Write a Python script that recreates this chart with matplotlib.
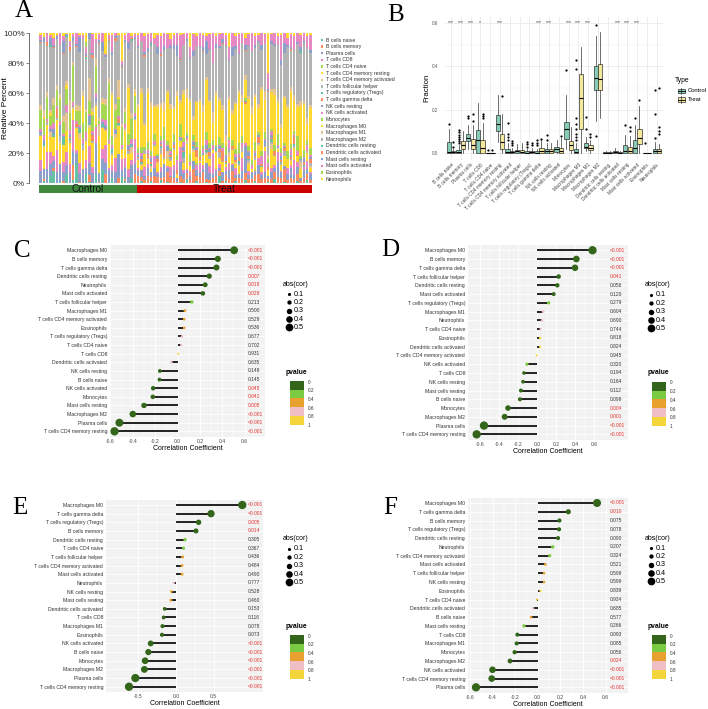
import numpy as np
import matplotlib
matplotlib.use("Agg")
import matplotlib.pyplot as plt
from matplotlib.patches import Rectangle

plt.rcParams['font.family'] = ['Liberation Sans', 'DejaVu Sans']
plt.rcParams['axes.unicode_minus'] = False

W, H = 708, 709

# ---------------- data ----------------
cell_types = ["B cells naive", "B cells memory", "Plasma cells", "T cells CD8", "T cells CD4 naive",
              "T cells CD4 memory resting", "T cells CD4 memory activated", "T cells follicular helper",
              "T cells regulatory (Tregs)", "T cells gamma delta", "NK cells resting", "NK cells activated",
              "Monocytes", "Macrophages M0", "Macrophages M1", "Macrophages M2", "Dendritic cells resting",
              "Dendritic cells activated", "Mast cells resting", "Mast cells activated", "Eosinophils", "Neutrophils"]
palette_set2 = ["#66C2A5", "#FC8D62", "#8DA0CB", "#E78AC3", "#A6D854", "#FFD92F", "#E5C494", "#B3B3B3"]
groups = ["Control", "Treat"]

# Panel A: per-sample composition (percent), control samples
C_BN = [0,1,0,5,8,0,1,0,6,0, 2,13,0,0,7,1,0,4,0,9, 0,1,5,0,0,6,1,0,3,0]
C_BM = [0,1,0,0,2,0,0,1,0,0, 11,0,1,0,0,5,0,0,1,0, 8,0,0,0,3,0,1,0,0,6]
C_PC = [7,6,9,8,5,7,13,6,8,7, 10,6,7,9,5,8,7,17,6,7, 9,8,6,7,16,8,7,6,9,7]
C_CD8 = [6,0,11,8,3,14,0,7,10,5, 23,2,9,0,6,12,4,8,0,7, 15,1,6,9,0,11,5,7,3,18]
C_CD4N = [0,0,0,0,0,0,0,0,0,0, 0,0,0,0,0,0,0,1,0,0, 0,0,0,0,0,0,0,0,0,0]
C_CD4MR = [14,12,17,10,13,19,15,11,16,13, 8,14,20,12,15,13,17,10,27,14, 12,16,9,13,18,11,15,14,5,13]
C_CD4MA = [0,1,0,3,0,0,2,0,14,0, 1,0,5,0,0,2,0,0,8,0, 1,0,0,3,0,0,1,0,4,0]
C_TFH = [1,0,2,1,0,1,4,0,1,2, 0,1,0,3,1,0,1,2,0,1, 0,1,2,0,1,0,1,3,0,1]
C_TREG = [0,1,0,0,2,0,0,5,0,1, 0,0,3,0,0,1,0,0,0,2, 0,0,4,0,1,0,0,0,1,0]
C_GD = [0,0,1,0,0,6,0,0,0,1, 0,2,0,0,0,0,4,0,0,0, 1,0,0,0,3,0,0,1,0,0]
C_NKR = [1,2,0,1,3,0,8,1,0,2, 1,0,2,1,0,5,1,2,0,1, 3,0,1,2,0,1,0,4,1,2]
C_NKA = [2,3,1,2,4,2,3,1,5,2, 3,2,1,3,6,2,2,3,1,2, 4,2,3,1,2,3,2,1,3,2]
C_MONO = [11,9,14,7,12,10,16,8,13,11, 27,6,12,10,15,9,11,14,2,10, 13,38,8,12,11,19,7,10,14,12]
C_M0 = [0,1,0,2,0,0,1,0,3,0, 0,1,0,17,0,0,2,0,0,1, 0,0,39,0,1,0,0,43,0,2]
C_M1 = [3,4,3,2,5,3,3,4,3,8, 2,3,4,3,3,16,3,4,2,3, 5,3,3,4,11,3,2,4,3,3]
C_M2 = [35,38,30,42,33,29,36,40,34,31, 15,37,45,33,39,28,35,8,54,32, 36,24,34,41,30,59,37,33,48,35]
C_DCR = [0,0,0,1,0,0,0,0,1,0, 0,0,0,0,1,0,0,0,0,0, 0,1,0,0,0,0,0,0,1,0]
C_DCA = [1,0,2,0,1,0,0,1,0,2, 0,1,0,0,1,0,2,0,1,0, 0,1,0,2,0,1,0,0,1,0]
C_MCR = [1,3,0,5,1,2,0,8,1,0, 3,1,13,0,2,4,1,0,2,6, 1,0,3,1,0,2,1,7,0,1]
C_MCA = [3,0,6,2,5,1,9,3,0,4, 2,7,1,3,5,0,13,2,4,6, 1,3,16,2,0,5,3,8,1,2]
C_EOS = [0,0,0,0,0,0,0,0,0,0, 0,0,0,0,4,0,0,0,0,0, 0,0,0,0,0,0,0,0,0,0]
C_NEU = [1,2,0,1,3,1,0,2,1,5, 1,0,2,1,7,0,1,3,1,0, 18,1,2,0,1,29,1,0,2,1]

# treat samples
T_BN = [0,1,0,0,1,0,0,2,0,1, 0,0,0,1,0,3,0,0,1,0, 0,1,0,0,0,5,0,1,0,0, 1,0,0,2,0,0,1,0,0,0, 1,0,3,0,0,1,0,0,0,1, 0,0,2,0]
T_BM = [4,3,2,6,3,5,4,2,3,7, 4,3,1,5,3,4,2,10,3,4, 6,3,2,4,5,3,1,4,3,8, 2,4,3,5,3,2,4,6,3,4, 2,3,5,4,3,9,2,4,3,5, 1,3,4,2]
T_PC = [3,4,2,6,3,5,2,4,7,3, 1,5,3,13,4,2,3,6,4,3, 2,15,5,3,4,2,6,3,8,4, 2,3,5,18,3,4,2,6,3,4, 2,5,3,10,4,2,3,7,3,4, 2,5,3,4]
T_CD8 = [2,0,5,3,0,8,1,4,0,2, 6,3,0,14,2,1,4,0,3,7, 2,0,5,17,1,3,0,2,6,1, 4,0,9,2,3,0,1,5,2,16, 0,3,2,6,1,0,4,2,11,3, 0,2,5,1]
T_CD4N = [0,0,0,0,0,0,0,0,0,0, 0,0,0,0,0,0,0,0,1,0, 0,0,0,0,0,0,0,0,0,0, 0,0,0,0,0,0,1,0,0,0, 0,0,0,0,0,0,0,0,0,0, 0,0,0,0]
T_CD4MR = [5,3,8,4,2,7,6,10,3,5, 4,9,2,6,5,18,3,7,4,1, 6,8,5,3,12,4,6,2,5,9, 3,7,4,26,5,2,6,8,4,3, 5,14,6,2,4,7,5,3,9,4, 6,0,5,3]
T_CD4MA = [0,1,0,0,2,0,1,0,0,6, 0,0,1,0,0,3,0,1,0,0, 0,2,0,0,1,0,0,0,4,0, 1,0,0,0,2,0,0,1,0,0, 0,3,0,1,0,0,0,1,0,0, 5,0,0,1]
T_TFH = [1,0,2,1,0,1,0,4,1,0, 2,1,0,1,3,0,1,2,0,1, 0,1,2,0,1,4,1,0,2,1, 0,1,3,0,1,0,2,1,0,1, 0,2,1,0,1,3,0,1,2,0, 1,0,1,2]
T_TREG = [0,1,0,0,1,0,0,2,0,0, 1,0,0,0,4,0,0,1,0,0, 0,1,0,0,2,0,0,1,0,0, 0,3,0,0,1,0,0,0,1,0, 0,2,0,0,1,0,0,0,1,0, 0,1,0,0]
T_GD = [1,2,0,3,1,0,2,1,5,0, 1,2,3,0,1,2,0,1,4,2, 0,1,3,1,0,2,6,1,0,2, 1,3,0,1,2,0,1,4,1,0, 2,1,3,0,1,2,0,1,5,1, 0,2,1,3]
T_NKR = [1,2,0,1,3,0,2,1,0,4, 1,2,0,1,3,1,0,2,1,0, 1,4,2,0,1,2,0,3,1,0, 2,1,0,1,3,0,2,1,0,4, 1,2,0,1,3,1,0,2,1,0, 1,2,0,1]
T_NKA = [1,2,0,3,1,2,0,1,4,1, 2,0,7,1,3,0,2,1,1,0, 2,5,1,3,0,1,2,1,8,0, 2,1,3,0,1,2,1,0,6,1, 2,3,0,1,2,1,0,4,1,2, 0,1,3,1]
T_MONO = [3,4,2,6,3,5,1,4,7,3, 2,5,4,12,3,2,6,4,3,5, 2,8,3,4,1,5,3,6,2,4, 3,9,5,2,4,3,6,2,4,5, 3,1,4,7,3,2,5,4,3,10, 2,4,3,5]
T_M0 = [25,34,12,40,28,18,31,22,9,36, 27,15,44,20,30,26,38,11,24,33, 19,49,29,14,37,25,21,3,32,17, 28,41,23,12,35,26,30,16,46,24, 0,27,36,20,13,31,25,39,22,18, 33,28,10,26]
T_M1 = [2,3,2,4,3,1,2,3,5,2, 3,2,4,2,3,6,2,3,1,2, 4,3,2,9,3,2,3,4,2,3, 1,2,5,3,2,4,2,3,2,7, 3,2,4,2,3,1,2,3,5,2, 3,2,4,2]
T_M2 = [34,30,38,29,36,41,33,35,28,32, 39,34,26,37,31,35,29,44,33,36, 30,22,35,40,32,34,38,56,31,36, 33,29,35,16,37,32,30,41,28,35, 47,33,31,36,39,30,34,27,33,38, 32,35,45,34]
T_DCR = [0,0,0,0,1,0,0,0,0,0, 0,0,0,0,0,0,0,0,0,0, 0,0,0,0,0,0,0,1,0,0, 0,0,0,0,0,0,0,0,0,0, 0,0,0,0,0,0,0,0,0,0, 1,0,0,0]
T_DCA = [0,0,1,0,0,0,0,1,0,0, 0,0,0,1,0,0,0,0,0,0, 1,0,0,0,0,0,1,0,0,0, 0,0,0,1,0,0,0,0,0,0, 1,0,0,0,0,0,0,1,0,0, 0,0,0,0]
T_MCR = [1,0,2,3,1,0,5,1,2,0, 1,3,8,1,0,2,1,4,0,1, 2,12,1,0,3,1,2,0,1,6, 2,1,0,3,1,0,2,1,4,0, 1,2,1,0,3,7,1,2,0,1, 3,1,0,2]
T_MCA = [7,5,9,11,6,4,8,13,7,10, 5,6,9,21,7,4,8,12,6,9, 7,5,10,24,6,8,4,7,11,9, 6,15,7,5,8,10,6,4,9,7, 12,5,8,6,17,7,4,9,11,6, 8,5,7,10]
T_EOS = [0,0,0,0,0,0,0,0,0,0, 0,0,0,0,0,0,0,0,0,0, 0,0,0,0,0,0,0,0,0,0, 0,0,0,0,0,0,0,0,0,0, 0,0,0,0,0,0,0,0,0,0, 0,0,0,0]
T_NEU = [1,0,2,1,0,3,1,2,0,1, 4,1,0,2,1,0,10,1,2,0, 1,3,1,0,2,1,0,1,12,0, 2,1,0,3,1,0,2,1,0,1, 30,1,0,2,1,0,3,1,2,0, 1,0,2,1]

ctrl_lists = [C_BN, C_BM, C_PC, C_CD8, C_CD4N, C_CD4MR, C_CD4MA, C_TFH, C_TREG, C_GD, C_NKR, C_NKA,
              C_MONO, C_M0, C_M1, C_M2, C_DCR, C_DCA, C_MCR, C_MCA, C_EOS, C_NEU]
treat_lists = [T_BN, T_BM, T_PC, T_CD8, T_CD4N, T_CD4MR, T_CD4MA, T_TFH, T_TREG, T_GD, T_NKR, T_NKA,
               T_MONO, T_M0, T_M1, T_M2, T_DCR, T_DCA, T_MCR, T_MCA, T_EOS, T_NEU]

# Panel B: box statistics (q1, median, q3, whisker low, whisker high) and outliers
ctrl_q1 = [0, 0, 0.055, 0, 0, 0.10, 0, 0, 0, 0, 0, 0.005, 0.065, 0, 0.025, 0.29, 0, 0, 0, 0, 0, 0]
ctrl_med = [0.005, 0.005, 0.07, 0.06, 0, 0.135, 0.005, 0.01, 0, 0, 0.01, 0.02, 0.11, 0.005, 0.03, 0.345, 0, 0.005, 0.01, 0.025, 0, 0.01]
ctrl_q3 = [0.05, 0.015, 0.09, 0.105, 0, 0.175, 0.02, 0.015, 0.01, 0.01, 0.02, 0.03, 0.145, 0.02, 0.045, 0.40, 0.005, 0.01, 0.035, 0.06, 0, 0.02]
ctrl_lo = [0, 0, 0.02, 0, 0, 0.05, 0, 0, 0, 0, 0, 0, 0.02, 0, 0.01, 0.15, 0, 0, 0, 0, 0, 0]
ctrl_hi = [0.11, 0.035, 0.13, 0.23, 0, 0.27, 0.045, 0.04, 0.02, 0.02, 0.045, 0.06, 0.27, 0.045, 0.075, 0.54, 0.01, 0.025, 0.085, 0.13, 0, 0.05]
ctrl_out = [[0.135], [0.045, 0.055, 0.065, 0.075, 0.085, 0.095, 0.105], [0.16, 0.17], [], [0.015], [],
            [0.06, 0.075, 0.09, 0.14], [], [0.03, 0.04, 0.05], [0.035, 0.045, 0.06], [0.06, 0.085], [],
            [0.385], [0.06, 0.075, 0.09, 0.11, 0.135, 0.16, 0.39, 0.43], [0.11, 0.165], [0.08, 0.59],
            [], [], [0.13], [0.16], [0.045], [0.07, 0.18, 0.29]]
treat_q1 = [0, 0.02, 0.02, 0, 0, 0.02, 0, 0, 0, 0, 0, 0, 0.015, 0.11, 0.015, 0.29, 0, 0, 0, 0.04, 0, 0]
treat_med = [0.005, 0.035, 0.035, 0.025, 0, 0.05, 0.003, 0.005, 0.005, 0.01, 0.01, 0.01, 0.035, 0.255, 0.025, 0.34, 0, 0, 0.01, 0.07, 0, 0.01]
treat_q3 = [0.01, 0.055, 0.065, 0.06, 0, 0.09, 0.01, 0.015, 0.01, 0.025, 0.02, 0.025, 0.055, 0.365, 0.035, 0.41, 0.005, 0.005, 0.03, 0.11, 0, 0.02]
treat_lo = [0, 0, 0, 0, 0, 0, 0, 0, 0, 0, 0, 0, 0, 0, 0, 0.16, 0, 0, 0, 0, 0, 0]
treat_hi = [0.02, 0.10, 0.13, 0.14, 0, 0.18, 0.025, 0.045, 0.025, 0.06, 0.045, 0.07, 0.12, 0.49, 0.06, 0.56, 0.01, 0.01, 0.08, 0.215, 0, 0.04]
treat_out = [[0.03, 0.05], [], [0.15, 0.18], [0.16, 0.17, 0.18], [0.015], [0.265], [0.035, 0.045, 0.055],
             [], [0.035, 0.045], [0.065], [], [0.08], [], [], [0.075, 0.09], [], [], [], [0.10, 0.12],
             [0.245], [], [0.09, 0.10, 0.12, 0.30]]
signif = ["***", "***", "***", "*", "", "***", "", "", "", "***", "***", "", "***", "***", "***", "",
          "", "***", "***", "***", "", ""]

# Panels C-F: correlation lollipops
C_names = ["Macrophages M0", "B cells memory", "T cells gamma delta", "Dendritic cells resting", "Neutrophils",
           "Mast cells activated", "T cells follicular helper", "Macrophages M1", "T cells CD4 memory activated",
           "Eosinophils", "T cells regulatory (Tregs)", "T cells CD4 naive", "T cells CD8", "Dendritic cells activated",
           "NK cells resting", "B cells naive", "NK cells activated", "Monocytes", "Mast cells resting",
           "Macrophages M2", "Plasma cells", "T cells CD4 memory resting"]
C_cor = [0.507, 0.361, 0.349, 0.284, 0.248, 0.227, 0.128, 0.066, 0.06, 0.06, 0.039, 0.033, 0.006, -0.054,
         -0.158, -0.161, -0.218, -0.221, -0.30, -0.40, -0.52, -0.564]
C_p = ["<0.001", "<0.001", "<0.001", "0.007", "0.018", "0.029", "0.213", "0.500", "0.529", "0.536", "0.677",
       "0.702", "0.931", "0.635", "0.148", "0.145", "0.045", "0.041", "0.005", "<0.001", "<0.001", "<0.001"]

D_names = ["Macrophages M0", "B cells memory", "T cells gamma delta", "T cells follicular helper",
           "Dendritic cells resting", "Mast cells activated", "T cells regulatory (Tregs)", "Macrophages M1",
           "Neutrophils", "T cells CD4 naive", "Eosinophils", "Dendritic cells activated",
           "T cells CD4 memory activated", "NK cells activated", "T cells CD8", "NK cells resting",
           "Mast cells resting", "B cells naive", "Monocytes", "Macrophages M2", "Plasma cells",
           "T cells CD4 memory resting"]
D_cor = [0.58, 0.41, 0.396, 0.224, 0.21, 0.172, 0.119, 0.06, 0.049, 0.035, 0.028, 0.028, -0.007, -0.109,
         -0.14, -0.15, -0.172, -0.182, -0.308, -0.343, -0.56, -0.637]
D_p = ["<0.001", "<0.001", "<0.001", "0.041", "0.056", "0.120", "0.279", "0.604", "0.690", "0.744", "0.818",
       "0.824", "0.945", "0.320", "0.194", "0.164", "0.112", "0.099", "0.004", "0.001", "<0.001", "<0.001"]

E_names = ["Macrophages M0", "T cells gamma delta", "T cells regulatory (Tregs)", "B cells memory",
           "Dendritic cells resting", "T cells CD4 naive", "T cells follicular helper",
           "T cells CD4 memory activated", "Mast cells activated", "Neutrophils", "NK cells resting",
           "Mast cells resting", "Dendritic cells activated", "T cells CD8", "Macrophages M1", "Eosinophils",
           "NK cells activated", "B cells naive", "Monocytes", "Macrophages M2", "Plasma cells",
           "T cells CD4 memory resting"]
E_cor = [0.88, 0.465, 0.30, 0.265, 0.12, 0.10, 0.088, 0.08, 0.08, -0.03, -0.062, -0.07, -0.15, -0.164, -0.18,
         -0.186, -0.336, -0.367, -0.41, -0.42, -0.54, -0.624]
E_p = ["<0.001", "<0.001", "0.005", "0.014", "0.305", "0.367", "0.436", "0.484", "0.490", "0.777", "0.528",
       "0.460", "0.153", "0.116", "0.078", "0.073", "<0.001", "<0.001", "<0.001", "<0.001", "<0.001", "<0.001"]

F_names = ["Macrophages M0", "T cells gamma delta", "B cells memory", "T cells regulatory (Tregs)",
           "Dendritic cells resting", "Neutrophils", "T cells CD4 memory activated", "Mast cells activated",
           "T cells follicular helper", "NK cells resting", "Eosinophils", "T cells CD4 naive",
           "Dendritic cells activated", "B cells naive", "Mast cells resting", "T cells CD8", "Macrophages M1",
           "Monocytes", "Macrophages M2", "NK cells activated", "T cells CD4 memory resting", "Plasma cells"]
F_cor = [0.525, 0.271, 0.192, 0.189, 0.18, 0.133, 0.106, 0.068, 0.056, 0.056, 0.024, -0.009, -0.041, -0.059,
         -0.121, -0.18, -0.186, -0.204, -0.245, -0.40, -0.407, -0.546]
F_p = ["<0.001", "0.010", "0.075", "0.078", "0.090", "0.207", "0.324", "0.521", "0.599", "0.599", "0.839",
       "0.934", "0.685", "0.577", "0.266", "0.093", "0.085", "0.056", "0.024", "<0.001", "<0.001", "<0.001"]

pbin_edges = [0, 0.2, 0.4, 0.6, 0.8, 1]
pbin_colors = ["#33661A", "#7BCB42", "#E8A12E", "#F0BFC6", "#F4D63A"]
size_breaks = [0.1, 0.2, 0.3, 0.4, 0.5]

# ---------------- figure ----------------
fig = plt.figure(figsize=(W / 100, H / 100), dpi=100)


def axpx(x0, y0, x1, y1, **kw):
    return fig.add_axes([x0 / W, 1 - y1 / H, (x1 - x0) / W, (y1 - y0) / H], **kw)


ov = axpx(0, 0, W, H)
ov.set_xlim(0, W)
ov.set_ylim(H, 0)
ov.axis('off')
ov.set_zorder(10)
ov.patch.set_visible(False)

SERIF = ['Liberation Serif', 'DejaVu Serif']
for lab, (lx, ly) in {"A": (24, 11), "B": (396, 15), "C": (22, 251), "D": (390, 250),
                      "E": (20, 508), "F": (390, 508)}.items():
    ov.text(lx, ly, lab, fontsize=18, family=SERIF, ha='center', va='center')

# ---------- Panel A ----------
comp = np.array([c + t for c, t in zip(ctrl_lists, treat_lists)], dtype=float)
comp = comp / comp.sum(axis=0)
N = comp.shape[1]
n_ctrl = len(C_BN)
axA = axpx(29, 33, 322, 183)
ppu = (312 - 39) / N
e = 10 / ppu
xs = np.arange(N)
bottom = np.zeros(N)
for k in range(len(cell_types)):
    axA.bar(xs, comp[k], bottom=bottom, width=0.82, color=palette_set2[k % 8], lw=0)
    bottom += comp[k]
axA.set_xlim(-0.5 - e, N - 0.5 + e)
axA.set_ylim(0, 1)
axA.set_yticks([0, 0.2, 0.4, 0.6, 0.8, 1.0])
axA.set_yticklabels(["0%", "20%", "40%", "60%", "80%", "100%"])
axA.set_xticks([])
for s in ['top', 'right', 'bottom']:
    axA.spines[s].set_visible(False)
axA.spines['left'].set_color('#555555')
axA.spines['left'].set_linewidth(0.6)
axA.tick_params(axis='y', labelsize=6, length=2, width=0.5, color='#555555', pad=1, labelcolor='#333333')
ov.text(5.5, 108, "Relative Percent", fontsize=6, rotation=90, ha='center', va='center')

axG = axpx(39, 185, 312, 193)
gsize = [n_ctrl, N - n_ctrl]
gleft = [0, n_ctrl]
axG.barh([0, 0], gsize, left=gleft, height=1, color=["#408A40", "#CC0000"], lw=0)
for g, l, s in zip(groups, gleft, gsize):
    axG.text(l + s / 2, 0, g, ha='center', va='center', fontsize=7.2, color='#111111')
axG.set_xlim(0, N)
axG.set_ylim(-0.5, 0.5)
axG.axis('off')

for k, name in enumerate(cell_types):
    y = 40 + k * 6.62
    ov.add_patch(Rectangle((320.6, y - 1.2), 2.4, 2.4, color=palette_set2[k % 8], lw=0))
    ov.text(326, y, name, fontsize=3.7, va='center', ha='left', color='#333333')

# ---------- Panel B ----------
axB = axpx(445.1, 16.5, 662.7, 159.5)
axB.set_xlim(-0.6, len(cell_types) - 1 + 0.6)
axB.set_ylim(-0.03, 0.63)
pos = np.arange(len(cell_types))
common = dict(widths=0.43, patch_artist=True, showcaps=False,
              medianprops=dict(color='black', lw=0.8),
              whiskerprops=dict(color='#333333', lw=0.5),
              flierprops=dict(marker='o', markersize=1.6, markerfacecolor='black', markeredgecolor='none'))
col_ctrl, col_treat = "#86CDB7", "#F4E89A"
for q1s, meds, q3s, los, his, outs, off, col in [
        (ctrl_q1, ctrl_med, ctrl_q3, ctrl_lo, ctrl_hi, ctrl_out, -0.225, col_ctrl),
        (treat_q1, treat_med, treat_q3, treat_lo, treat_hi, treat_out, 0.225, col_treat)]:
    stats = [dict(q1=a, med=b, q3=c, whislo=d, whishi=f, fliers=g)
             for a, b, c, d, f, g in zip(q1s, meds, q3s, los, his, outs)]
    axB.bxp(stats, positions=pos + off, boxprops=dict(facecolor=col, edgecolor='#333333', lw=0.5),
            manage_ticks=False, **common)
for i, s in enumerate(signif):
    if s:
        axB.text(i, 0.6, s, ha='center', va='center', fontsize=3.6, color='#444444')
axB.set_xticks(pos)
axB.set_xticklabels(cell_types, rotation=45, ha='right', va='top', rotation_mode='anchor', fontsize=3.4,
                    color='#444444')
axB.set_yticks([0, 0.2, 0.4, 0.6])
axB.set_yticklabels(["0.0", "0.2", "0.4", "0.6"], fontsize=3.3, color='#555555')
axB.set_yticks([0.1, 0.3, 0.5], minor=True)
axB.tick_params(axis='both', which='both', length=0)
axB.tick_params(axis='y', pad=5)
axB.tick_params(axis='x', pad=2)
axB.grid(True, which='major', color='#E6E6E6', lw=0.5)
axB.grid(True, which='minor', axis='y', color='#F0F0F0', lw=0.35)
axB.set_axisbelow(True)
for s in axB.spines.values():
    s.set_visible(False)
axB.set_ylabel("Fraction", fontsize=5.6, labelpad=1)

ov.text(675, 80, "Type", fontsize=4.9, va='center', ha='left')
for j, (g, col) in enumerate(zip(groups, [col_ctrl, col_treat])):
    yk = 91 + j * 8.5
    ov.plot([681, 681], [yk - 3.4, yk + 3.4], color='#333333', lw=0.5)
    ov.add_patch(Rectangle((677.5, yk - 2.2), 7, 4.4, facecolor=col, edgecolor='#333333', lw=0.5))
    ov.plot([677.5, 684.5], [yk, yk], color='black', lw=0.6)
    ov.text(688, yk, g, fontsize=4.2, va='center', ha='left')


# ---------- Panels C-F ----------
def pcolor(pv):
    for k in range(5):
        if pv < pbin_edges[k + 1] or k == 4:
            return pbin_colors[k]


def lollipop(box, names, cors, pstr, zero_px, ppx, ticks, tick_labels, ptext_x, leg_x, size_y, pv_y):
    x0, y0, x1, y1 = box
    ax = axpx(x0, y0, x1, y1)
    ax.set_facecolor('#F2F2F2')
    n = len(names)
    ys = np.arange(n)[::-1]
    ax.set_xlim((x0 - zero_px) / ppx, (x1 - zero_px) / ppx)
    ax.set_ylim(-0.6, n - 1 + 0.6)
    cors = np.array(cors)
    pv = [float(s.lstrip('<')) for s in pstr]
    ax.hlines(ys, 0, cors, color='#111111', lw=1.3, zorder=2)
    diam = 2 + 11.5 * np.minimum(np.abs(cors), 0.55)
    ax.scatter(cors, ys, s=(diam * 0.72) ** 2, c=[pcolor(p) for p in pv], lw=0, zorder=3)
    for y, s, p in zip(ys, pstr, pv):
        ax.text(ptext_x, y, s, fontsize=3.5, va='center', ha='left',
                color='#E0302C' if p < 0.05 else '#333333')
    ax.set_yticks(ys)
    ax.set_yticklabels(names, fontsize=3.7, color='#333333')
    ax.set_xticks(ticks)
    ax.set_xticklabels(tick_labels, fontsize=3.6, color='#444444')
    minor = [(a + b) / 2 for a, b in zip(ticks[:-1], ticks[1:])]
    ax.set_xticks(minor, minor=True)
    ax.tick_params(axis='both', which='both', length=0)
    ax.tick_params(axis='y', pad=2)
    ax.tick_params(axis='x', pad=1.5)
    ax.grid(True, which='major', color='white', lw=0.6)
    ax.grid(True, which='minor', axis='x', color='white', lw=0.35)
    ax.set_axisbelow(True)
    for s in ax.spines.values():
        s.set_visible(False)
    ax.set_xlabel("Correlation Coefficient", fontsize=5, labelpad=1)
    # size legend
    ov.text(leg_x, size_y - 10, "abs(cor)", fontsize=5, va='center', ha='left')
    for k, b in enumerate(size_breaks):
        yy = size_y + k * 8.35
        d = 2 + 11.5 * b
        ov.scatter([leg_x + 6], [yy], s=(d * 0.72) ** 2, color='black', lw=0)
        ov.text(leg_x + 11, yy, f"{b:.1f}", fontsize=5.2, va='center', ha='left')
    # pvalue legend
    ov.text(leg_x + 3, pv_y, "pvalue", fontsize=4.9, fontweight='bold', va='center', ha='left')
    bh = 8.7
    top = pv_y + 9
    for k in range(5):
        ov.add_patch(Rectangle((leg_x + 7, top + k * bh), 14, bh, color=pbin_colors[k], lw=0))
    for k, ed in enumerate(pbin_edges):
        ov.text(leg_x + 25, top + k * bh + 1, f"{ed:g}", fontsize=3.4, va='center', ha='left', color='#333333')


ticks6 = [-0.6, -0.4, -0.2, 0.0, 0.2, 0.4, 0.6]
lab6 = [f"{t:.1f}" for t in ticks6]
lollipop((110, 245.1, 265, 436.5), C_names, C_cor, C_p, 177.5, 111.7, ticks6, lab6, 0.63, 283, 294, 372)
lollipop((468, 245, 628, 439.6), D_names, D_cor, D_p, 537.3, 95.2, ticks6, lab6, 0.764, 645, 295, 373)
ticks5 = [-0.5, 0.0, 0.5]
lollipop((106, 499.8, 263, 691.9), E_names, E_cor, E_p, 176, 75.3, ticks5, [f"{t:.1f}" for t in ticks5],
         0.956, 283, 549, 626)
lollipop((468, 497.7, 628, 692.6), F_names, F_cor, F_p, 537.7, 113, ticks6, lab6, 0.639, 645, 548, 626)

fig.savefig("out.png", dpi=100)
